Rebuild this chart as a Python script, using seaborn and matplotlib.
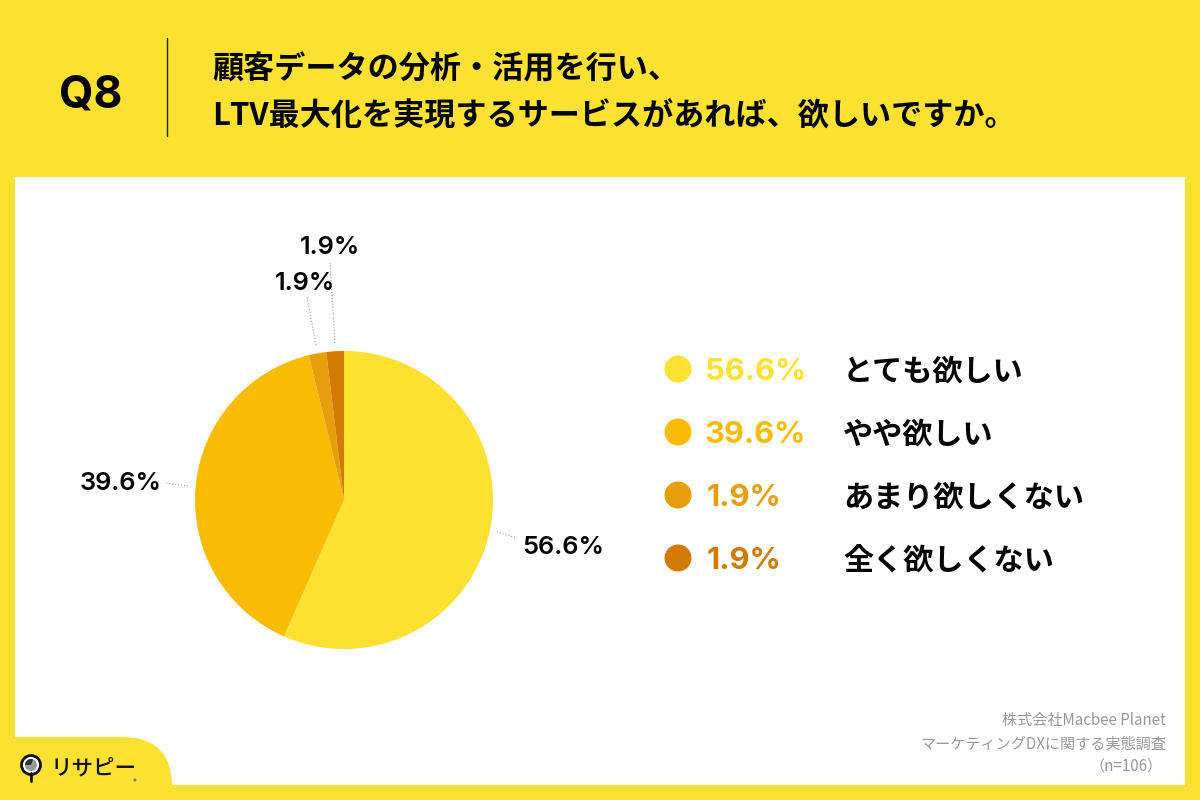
import matplotlib
matplotlib.use('Agg')
import matplotlib.pyplot as plt
import seaborn as sns
from matplotlib.patches import Circle, FancyBboxPatch, Rectangle, Wedge

# data
categories = ['とても欲しい', 'やや欲しい', 'あまり欲しくない', '全く欲しくない']
values = [56.6, 39.6, 1.9, 1.9]
pct_labels = ['56.6%', '39.6%', '1.9%', '1.9%']
colors = ['#FBE232', '#F9BC05', '#E79E0B', '#D27A02']
title_lines = ['顧客データの分析・活用を行い、', 'LTV最大化を実現するサービスがあれば、欲しいですか。']
question = 'Q8'
source_lines = ['株式会社Macbee Planet', 'マーケティングDXに関する実態調査', '（n=106）']

YELLOW = '#FBE232'
INK = '#050505'
LATIN = ['Inter', 'Noto Sans CJK JP', 'DejaVu Sans']
JP = ['Noto Sans CJK JP', 'DejaVu Sans']

sns.set_theme(style='white')
plt.rcParams['font.family'] = JP
palette = sns.color_palette(colors)

fig = plt.figure(figsize=(12, 8), dpi=100, facecolor=YELLOW)

# whole figure axes in pixels, for the panel and all the text
bg = fig.add_axes([0, 0, 1, 1])
bg.set_xlim(0, 1200)
bg.set_ylim(800, 0)
bg.axis('off')

bg.add_patch(Rectangle((15, 177), 1170, 608, color='white', lw=0))
bg.add_patch(FancyBboxPatch((-80, 737), 252, 140, boxstyle='round,pad=0,rounding_size=50',
                            color=YELLOW, lw=0))

# header
bg.text(91, 95, question, fontsize=32, fontweight='bold', family=LATIN,
        color=INK, ha='center', va='center')
bg.plot([167, 167], [38, 136], color='#222222', lw=1)
bg.text(212, 69.5, title_lines[0], fontsize=22.4, fontweight='bold', color=INK, va='center')
bg.text(212, 117, title_lines[1], fontsize=22.4, fontweight='bold', color=INK, va='center')

# pie
pie_ax = fig.add_axes([195 / 1200, 1 - 649 / 800, 298 / 1200, 298 / 800])
pie_ax.pie(values, colors=palette, startangle=90, counterclock=False, radius=1,
           wedgeprops={'linewidth': 0})
pie_ax.set_xlim(-1, 1)
pie_ax.set_ylim(-1, 1)

# percentage labels around the pie with their leader lines
label_pos = [(563, 548), (121, 483), (305, 283), (330, 248)]
leaders = [((497, 532), (517, 538)), ((188, 486), (167, 483)),
           ((316, 345), (307, 297)), ((335, 343), (330, 263))]
for txt, pos, (start, end) in zip(pct_labels, label_pos, leaders):
    bg.plot([start[0], end[0]], [start[1], end[1]], color='#999999', lw=0.8, ls=':', zorder=1)
    bg.text(pos[0], pos[1], txt, fontsize=18.3, fontweight='semibold', family=LATIN,
            color=INK, ha='center', va='center', zorder=3)

# legend
legend_y = [369, 432, 495, 558]
pct_x = [705, 705, 707, 707]
for name, txt, col, y, x in zip(categories, pct_labels, palette, legend_y, pct_x):
    bg.add_patch(Circle((678, y), 13.5, color=col, lw=0))
    bg.text(x, y + 3, txt, fontsize=22.3, fontweight='bold', family=LATIN, color=col, va='center')
    bg.text(843, y + 3, name, fontsize=21.7, fontweight='bold', color=INK, va='center')

# source note
bg.text(1166, 721, source_lines[0], fontsize=10.9, color='#999999', ha='right', va='center')
bg.text(1166, 744, source_lines[1], fontsize=10.9, color='#999999', ha='right', va='center')
bg.text(1163, 767, source_lines[2], fontsize=10.9, color='#999999', ha='right', va='center')

# logo
bg.plot([31, 31], [773, 781], color='#111111', lw=2, solid_capstyle='round')
bg.add_patch(Circle((31, 765), 9.5, facecolor='white', edgecolor='#111111', lw=2))
bg.add_patch(Circle((31, 765), 6, facecolor='#999999', edgecolor='none'))
bg.add_patch(Wedge((31, 765), 6, 180, 290, facecolor='#333333', edgecolor='none'))
bg.text(51, 768, 'リサピー', fontsize=15.5, fontweight='medium', color='#111111', va='center')
bg.add_patch(Circle((135, 780), 1.5, facecolor='#777777', edgecolor='none'))

fig.savefig('out.png', dpi=100, facecolor=YELLOW)
